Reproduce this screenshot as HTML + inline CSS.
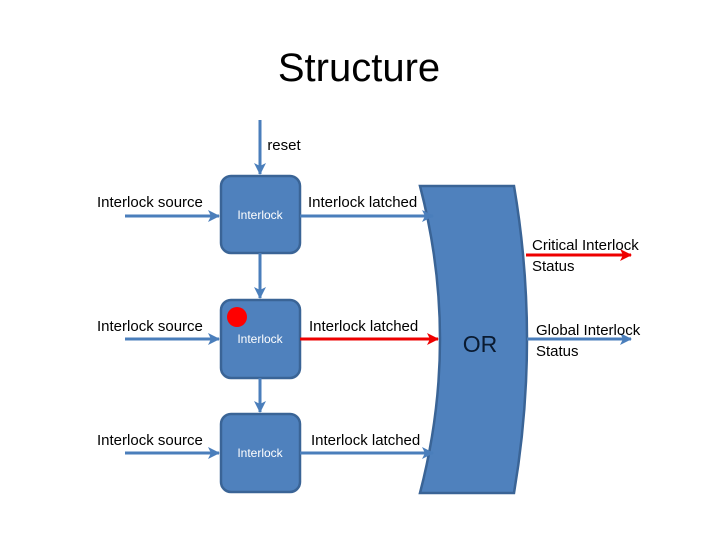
<!DOCTYPE html>
<html><head><style>body{margin:0;background:#fff}svg text{font-family:"Liberation Sans",sans-serif}</style></head><body>
<svg width="720" height="540" viewBox="0 0 720 540" xmlns="http://www.w3.org/2000/svg">
<defs>
<marker id="b" markerWidth="12" markerHeight="12" refX="11" refY="6" orient="auto" markerUnits="userSpaceOnUse"><path d="M0,0 L12,6 L0,12 L3,6Z" fill="#4a7ebb"/></marker>
<marker id="r" markerWidth="12" markerHeight="12" refX="11" refY="6" orient="auto" markerUnits="userSpaceOnUse"><path d="M0,0 L12,6 L0,12 L3,6Z" fill="#e00"/></marker>
</defs>
<text x="359" y="81" font-size="40" text-anchor="middle">Structure</text>
<text x="284" y="150" font-size="15" text-anchor="middle">reset</text>
<line x1="260" y1="120" x2="260" y2="174" stroke="#4a7ebb" stroke-width="3" marker-end="url(#b)"/>
<g fill="#4f81bd" stroke="#3a6496" stroke-width="2.5">
<rect x="221" y="176" width="79" height="77" rx="10"/>
<rect x="221" y="300" width="79" height="78" rx="10"/>
<rect x="221" y="414" width="79" height="78" rx="10"/>
<path d="M420,186 L514,186 Q540,339 514,493 L420,493 Q460,339 420,186Z"/>
</g>
<g fill="#fff" font-size="12" text-anchor="middle">
<text x="260" y="219">Interlock</text><text x="260" y="343">Interlock</text><text x="260" y="457">Interlock</text>
</g>
<circle cx="237" cy="317" r="10" fill="#f00"/>
<text x="480" y="352" font-size="23" text-anchor="middle" fill="#0a1a30">OR</text>
<g stroke="#4a7ebb" stroke-width="3" fill="none">
<line x1="125" y1="216" x2="219" y2="216" marker-end="url(#b)"/>
<line x1="125" y1="339" x2="219" y2="339" marker-end="url(#b)"/>
<line x1="125" y1="453" x2="219" y2="453" marker-end="url(#b)"/>
<line x1="300" y1="216" x2="433" y2="216" marker-end="url(#b)"/>
<line x1="300" y1="453" x2="433" y2="453" marker-end="url(#b)"/>
<line x1="260" y1="253" x2="260" y2="298" marker-end="url(#b)"/>
<line x1="260" y1="378" x2="260" y2="412" marker-end="url(#b)"/>
<line x1="527" y1="339" x2="631" y2="339" marker-end="url(#b)"/>
</g>
<line x1="300" y1="339" x2="438" y2="339" stroke="#e00" stroke-width="3" marker-end="url(#r)"/>
<line x1="526" y1="255" x2="631" y2="255" stroke="#e00" stroke-width="3" marker-end="url(#r)"/>
<g font-size="15">
<text x="97" y="207">Interlock source</text><text x="97" y="331">Interlock source</text><text x="97" y="445">Interlock source</text>
<text x="308" y="207">Interlock latched</text><text x="309" y="331">Interlock latched</text><text x="311" y="445">Interlock latched</text>
<text x="532" y="250">Critical Interlock</text><text x="532" y="271">Status</text>
<text x="536" y="335">Global Interlock</text><text x="536" y="356">Status</text>
</g>
</svg>
</body></html>
